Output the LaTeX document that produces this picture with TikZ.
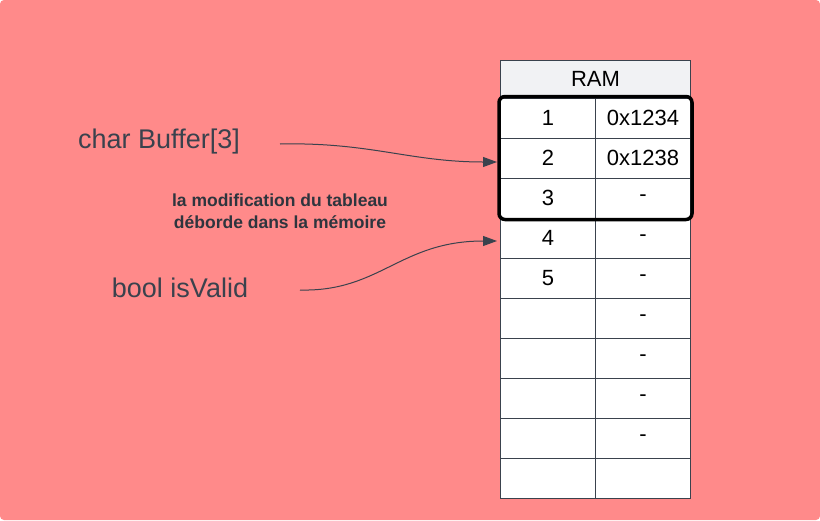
\documentclass[tikz,border=0pt]{standalone}
\usepackage{fontspec}
\setmainfont{Liberation Sans}
\usepackage{xcolor}
\usetikzlibrary{arrows.meta,fit}

\definecolor{bgpink}{HTML}{FF8A8A}
\definecolor{slate}{HTML}{3A424D}
\definecolor{headgrey}{HTML}{F1F2F4}

\begin{document}
\begin{tikzpicture}[x=1pt,y=-1pt,
    cell/.style={rectangle,
      draw = slate,
      fill = white,
      line width = 1pt,
      minimum width = 95pt,
      minimum height = 40pt,
      font = \fontsize{22}{26}\selectfont},
    varlabel/.style={text = slate, font = \fontsize{27}{32}\selectfont},
    pointer/.style={draw = slate, line width = 1pt,
      -{Triangle[length=14pt,width=10pt]}}]

% background
\fill[bgpink, rounded corners=4pt] (0,0) rectangle (820,520);
\useasboundingbox (0,0) rectangle (820,520);

% header
\node[rectangle,
    draw = slate,
    fill = headgrey,
    line width = 1pt,
    minimum width = 190pt,
    minimum height = 38pt,
    font = \fontsize{22}{26}\selectfont] (ram) at (595.5,79) {RAM};

% memory cells
\node[cell] (n1) at (548,118) {1};
\node[cell] (v1) at (643,118) {0x1234};
\node[cell] (n2) at (548,158) {2};
\node[cell] (v2) at (643,158) {0x1238};
\node[cell] (n3) at (548,198) {3};
\node[cell] (v3) at (643,198) {-};
\node[cell] (n4) at (548,238) {4};
\node[cell] (v4) at (643,238) {-};
\node[cell] (n5) at (548,278) {5};
\node[cell] (v5) at (643,278) {-};
\node[cell] (n6) at (548,318) {};
\node[cell] (v6) at (643,318) {-};
\node[cell] (n7) at (548,358) {};
\node[cell] (v7) at (643,358) {-};
\node[cell] (n8) at (548,398) {};
\node[cell] (v8) at (643,398) {-};
\node[cell] (n9) at (548,438) {};
\node[cell] (v9) at (643,438) {-};
\node[cell] (n10) at (548,478) {};
\node[cell] (v10) at (643,478) {};

% the array
\node[fit = (n1)(v3),
    inner sep = 1pt,
    draw = black,
    line width = 3.5pt,
    rounded corners = 6pt] (buffer) {};

% variables
\node[varlabel] (bufname) at (159,142) {char Buffer[3]};
\node[varlabel] (boolname) at (180,288) {bool isValid};

\node[text = slate!80!black, align=center,
    font = \bfseries\fontsize{17.5}{22}\selectfont] (note) at (280,211)
    {la modification du tableau\\déborde dans la mémoire};

\coordinate (bufstart) at (280,144);
\coordinate (boolstart) at (300,290);
\coordinate (bufend) at (497,162);
\coordinate (boolend) at (497,241);

\draw[pointer] (bufstart) .. controls (370,142) and (410,162) .. (bufend);
\draw[pointer] (boolstart) .. controls (380,292) and (400,241) .. (boolend);

\end{tikzpicture}
\end{document}
